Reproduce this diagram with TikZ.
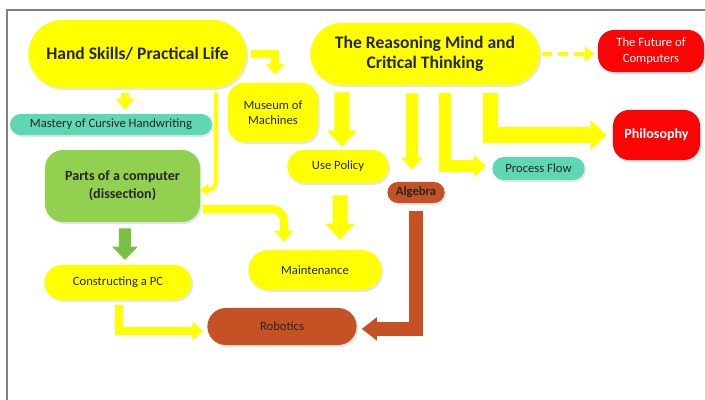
\documentclass[tikz,border=0pt]{standalone}
\usepackage{fontspec}
\setmainfont{Carlito}
\usetikzlibrary{positioning,shapes.misc,shapes.geometric,arrows.meta,shadows}
\definecolor{ylw}{RGB}{255,255,0}
\definecolor{mint}{RGB}{95,215,180}
\definecolor{leaf}{RGB}{146,208,80}
\definecolor{leafdark}{RGB}{122,192,66}
\definecolor{rust}{RGB}{196,82,36}
\definecolor{brightred}{RGB}{250,5,5}
\tikzset{box/.style={align=center, text=black!85, inner sep=1pt,
                     drop shadow={opacity=0.2, shadow xshift=0.04cm, shadow yshift=-0.05cm}},
         pill/.style={box, rounded rectangle},
         card/.style={box, rectangle, rounded corners=0.4cm},
         big/.style={font=\bfseries\fontsize{12.5}{14.5}\selectfont},
         small/.style={font=\fontsize{9}{11}\selectfont},
         fat/.style={draw=ylw, line width=0.375cm, line join=miter, -{Triangle[width=0.72cm,length=0.4cm]}},
         med/.style={draw=ylw, line width=0.29cm, line join=miter, -{Triangle[width=0.52cm,length=0.3cm]}},
         mid/.style={draw=ylw, line width=0.2cm, line join=miter, -{Triangle[width=0.46cm,length=0.27cm]}},
         link/.style={draw=ylw, line width=0.1cm, -{Triangle[width=0.3cm,length=0.2cm]}},
         dashflow/.style={draw=ylw, line width=0.1cm, dash pattern=on 0.25cm off 0.15cm, -{Triangle[width=0.36cm,length=0.25cm]}}
}
\begin{document}
\begin{tikzpicture}[x=0.025cm, y=-0.025cm]
  \useasboundingbox (0,0) rectangle (705,400);
  \draw[gray, line width=0.05cm] (7,400) -- (7,10) -- (705,10);

  % top row
  \node[pill, big, fill=ylw, minimum width=5.525cm, minimum height=1.7cm] (hand) at (137.5,54) {Hand Skills/ Practical Life};
  \node[pill, big, fill=ylw, minimum width=5.8cm, minimum height=1.55cm] (reason) at (425,54) {The Reasoning Mind and\\Critical Thinking};
  \node[card, small, fill=brightred, text=white, minimum width=2.65cm, minimum height=1.05cm] (future) at (651,51) {The Future of\\Computers};

  % left column
  \node[pill, small, fill=mint, inner sep=0pt, minimum width=5.05cm, minimum height=0.525cm] (mastery) at (111,124.5) {Mastery of Cursive Handwriting};
  \node[card, font=\bfseries\fontsize{10}{13}\selectfont, fill=leaf, rounded corners=0.45cm, minimum width=3.875cm, minimum height=1.8cm] (parts) at (122.5,186) {Parts of a computer\\(dissection)};
  \node[pill, small, fill=ylw, minimum width=3.75cm, minimum height=0.875cm] (construct) at (118,282.5) {Constructing a PC};

  % middle
  \node[card, small, fill=ylw, minimum width=2.25cm, minimum height=1.475cm] (museum) at (273,112.5) {Museum of\\Machines};
  \node[pill, small, fill=ylw, minimum width=2.6cm, minimum height=0.825cm] (usepol) at (338,166.5) {Use Policy};
  \node[pill, small, fill=ylw, minimum width=3.4cm, minimum height=1.0cm] (maint) at (315,270) {Maintenance};
  \node[pill, small, fill=rust, minimum width=3.8cm, minimum height=0.925cm] (robotics) at (282,326.5) {Robotics};
  \node[pill, small, font=\bfseries\fontsize{9}{11}\selectfont, fill=rust, minimum width=1.5cm, minimum height=0.525cm] (algebra) at (416,192.5) {Algebra};

  % right
  \node[pill, small, fill=mint, minimum width=2.375cm, minimum height=0.575cm] (process) at (538.5,168.5) {Process Flow};
  \node[card, small, font=\bfseries\fontsize{10}{12}\selectfont, fill=brightred, text=white, minimum width=2.175cm, minimum height=1.25cm] (philo) at (656.5,135) {Philosophy};

  % arrows
  \draw[mid, shorten <=0.12cm, shorten >=0.1cm] ([xshift=-0.31cm]hand.south) -- ([xshift=0.35cm]mastery.north);
  \draw[mid, shorten <=0.1cm, shorten >=0.2cm] (hand.east) -| ([xshift=0.05cm]museum.north);
  \draw[link, rounded corners=0.2cm, shorten <=0.1cm] ([xshift=1.96cm]hand.south) |- ([yshift=-0.1cm]parts.east);
  \draw[dashflow, shorten <=0.05cm, shorten >=0.08cm] (reason.east) -- (reason.east -| future.west);
  \draw[fat, shorten <=0.18cm, shorten >=0.075cm] ([xshift=-2.075cm]reason.south) -- ([xshift=0.1cm]usepol.north);
  \draw[fat, shorten <=0.3cm, shorten >=0.25cm] ([xshift=0.05cm]usepol.south) -- ([xshift=0.625cm]maint.north);
  \draw[mid, rounded corners=0.3cm, shorten >=0.2cm] ([xshift=0.05cm,yshift=-0.575cm]parts.east) -| ([xshift=-0.775cm]maint.north);
  \draw[med, shorten <=0.2cm, shorten >=0.3cm] ([xshift=-0.325cm]reason.south) -- ([xshift=-0.1cm]algebra.north);
  \draw[med, shorten <=0.2cm, shorten >=0.15cm] ([xshift=0.5cm]reason.south) |- ([yshift=0.06cm]process.west);
  \draw[fat, shorten <=0.2cm, shorten >=0.15cm] ([xshift=1.625cm]reason.south) |- (philo.west);
  \draw[mid, shorten <=0.12cm, shorten >=0.1cm] ([xshift=0.025cm]construct.south) |- ([yshift=-0.11cm]robotics.west);
  \draw[draw=rust, line width=0.36cm, line join=miter, -{Triangle[width=0.56cm,length=0.38cm]}, shorten <=0.2cm, shorten >=0.12cm] (algebra.south) |- ([yshift=-0.06cm]robotics.east);
  \draw[draw=leafdark, line width=0.3cm, -{Triangle[width=0.62cm,length=0.33cm]}, shorten <=0.15cm, shorten >=0.12cm] ([xshift=0.06cm]parts.south) -- ([xshift=0.175cm]construct.north);
\end{tikzpicture}
\end{document}
